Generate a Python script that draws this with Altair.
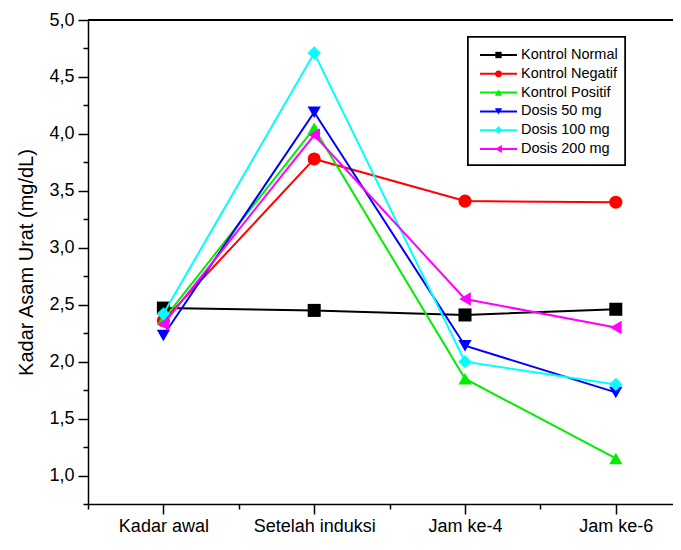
import json
import altair as alt
import pandas as pd

categories = ["Kadar awal", "Setelah induksi", "Jam ke-4", "Jam ke-6"]
series = ["Kontrol Normal", "Kontrol Negatif", "Kontrol Positif",
          "Dosis 50 mg", "Dosis 100 mg", "Dosis 200 mg"]
kontrol_normal = [2.47, 2.45, 2.41, 2.46]
kontrol_negatif = [2.36, 3.78, 3.41, 3.40]
kontrol_positif = [2.37, 4.05, 1.85, 1.15]
dosis_50 = [2.23, 4.19, 2.14, 1.73]
dosis_100 = [2.42, 4.71, 2.00, 1.80]
dosis_200 = [2.33, 3.99, 2.55, 2.30]
y_ticks = [0.75, 1.0, 1.25, 1.5, 1.75, 2.0, 2.25, 2.5, 2.75, 3.0, 3.25, 3.5,
           3.75, 4.0, 4.25, 4.5, 4.75, 5.0]
x_ticks = [0.5, 1, 1.5, 2, 2.5, 3, 3.5, 4]

colors = ["#000000", "#ff0000", "#00ee00", "#0000ff", "#00ffff", "#ff00ff"]
shapes = ["square", "circle", "triangle-up", "triangle-down", "diamond", "triangle-left"]
sizes = [170, 180, 220, 220, 300, 230]
legend_sizes = [40, 64, 75, 75, 80, 75]

values = [kontrol_normal, kontrol_negatif, kontrol_positif, dosis_50, dosis_100, dosis_200]
rows = []
for s, vals in zip(series, values):
    for i, v in enumerate(vals):
        rows.append({"series": s, "pos": i + 1, "value": v})
df = pd.DataFrame(rows)
leg_df = pd.DataFrame({"series": series, "idx": list(range(len(series)))})

W, H = 585, 484
Y0, Y1 = 0.75, 5.0
FONT = "Liberation Sans"

cat_js = json.dumps(categories)
major_y = "abs(datum.value*2 - round(datum.value*2)) < 0.001"
x_axis = alt.Axis(
    values=x_ticks, title=None, grid=False,
    labelExpr=f"datum.value % 1 === 0 ? {cat_js}[datum.value - 1] : ''",
    tickSize={"condition": {"test": "datum.value % 1 === 0", "value": 10}, "value": 5},
    labelFontSize=18, labelFont=FONT, labelColor="black", labelPadding=3,
    domainColor="black", domainWidth=1.5, tickColor="black", tickWidth=1.5,
    labelFlush=False, labelOverlap=False,
)
y_axis = alt.Axis(
    values=y_ticks, title="Kadar Asam Urat (mg/dL)", grid=False,
    labelExpr=f"{major_y} ? replace(format(datum.value, '.1f'), '.', ',') : ''",
    tickSize={"condition": {"test": major_y, "value": 10}, "value": 5},
    labelFontSize=18, labelFont=FONT, labelColor="black", labelPadding=4,
    titleFontSize=20, titleFont=FONT, titleFontWeight="normal", titleColor="black",
    titlePadding=12,
    domainColor="black", domainWidth=1.5, tickColor="black", tickWidth=1.5,
    labelFlush=False, labelOverlap=False,
)

xs = alt.Scale(domain=[0.5, 0.5 + W / 150.8], nice=False, zero=False)
ys = alt.Scale(domain=[Y0, Y1], nice=False, zero=False)
cscale = alt.Scale(domain=series, range=colors)
sscale = alt.Scale(domain=series, range=shapes)
zscale = alt.Scale(domain=series, range=sizes)

X = alt.X("pos:Q", scale=xs, axis=x_axis)
Y = alt.Y("value:Q", scale=ys, axis=y_axis)

base = alt.Chart(df)
layers = []
for s in series:
    f = base.transform_filter(alt.datum.series == s)
    line = f.mark_line(strokeWidth=2).encode(
        x=X, y=Y,
        color=alt.Color("series:N", scale=cscale, legend=None),
    )
    pts = f.mark_point(filled=True, opacity=1, strokeWidth=0).encode(
        x=X, y=Y,
        color=alt.Color("series:N", scale=cscale, legend=None),
        shape=alt.Shape("series:N", scale=sscale, legend=None),
        size=alt.Size("series:N", scale=zscale, legend=None),
    )
    layers += [line, pts]

top_border = alt.Chart(df).mark_rule(color="black", strokeWidth=1.5).encode(
    x=alt.value(0), x2=alt.value(W), y=alt.value(0)
)

# legend rows: pixel offsets converted to data units of the shared y scale
leg_base = alt.Chart(leg_df).transform_calculate(
    ly=f"{Y1} - (35 + 18.8 * datum.idx) * {(Y1 - Y0) / H}"
)
LY = alt.Y("ly:Q", scale=ys, axis=y_axis)
leg_frame = alt.Chart(leg_df).mark_rect(fill="white", stroke="black", strokeWidth=1.5).encode(
    x=alt.value(380), x2=alt.value(537), y=alt.value(17), y2=alt.value(145)
)
leg_rule = leg_base.mark_rule(strokeWidth=2).encode(
    x=alt.value(392), x2=alt.value(429), y=LY,
    color=alt.Color("series:N", scale=cscale, legend=None),
)
leg_pts = leg_base.mark_point(filled=True, opacity=1, strokeWidth=0).encode(
    x=alt.value(410.5), y=LY,
    color=alt.Color("series:N", scale=cscale, legend=None),
    shape=alt.Shape("series:N", scale=sscale, legend=None),
    size=alt.Size("series:N", scale=alt.Scale(domain=series, range=legend_sizes), legend=None),
)
leg_text = leg_base.mark_text(align="left", baseline="middle", fontSize=14.5, font=FONT, color="black").encode(
    x=alt.value(433), y=LY, text="series:N",
)

chart = alt.layer(*layers, top_border, leg_frame, leg_rule, leg_pts, leg_text).resolve_scale(
    size="independent"
).properties(
    width=W, height=H,
    autosize="none",
    padding={"left": 80, "top": 12, "right": 0, "bottom": 30},
    background="white",
).configure_view(strokeWidth=0)

chart.save("out.html", embed_options={"renderer": "svg", "actions": False})
